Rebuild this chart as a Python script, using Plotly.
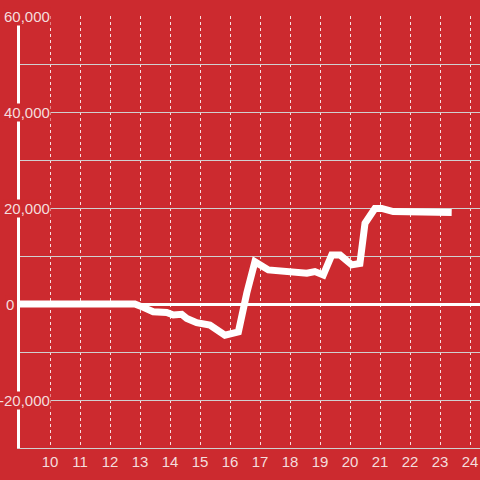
import plotly.graph_objects as go

# data
hours = [9, 12.83, 13.11, 13.44, 13.89, 14.11, 14.39, 14.56, 14.89, 15.0, 15.33,
         15.83, 16.28, 16.56, 16.83, 17.28, 18.22, 18.56, 18.83, 19.11, 19.39,
         19.67, 20.06, 20.33, 20.5, 20.83, 21.06, 21.44, 23.39]
values = [0, 0, -700, -1600, -1750, -2300, -2150, -3000, -3900, -4000, -4400,
          -6500, -5800, 2300, 8800, 7100, 6750, 6400, 6750, 6050, 10200,
          10200, 8150, 8450, 16800, 19900, 19900, 19250, 19050]
x_ticks = list(range(10, 25))
y_ticks = [60000, 40000, 20000, 0, -20000]
y_tick_labels = ["60,000", "40,000", "20,000", "0", "-20,000"]

BG = "#cc2a2f"
TXT = "#f4dddd"
FONT = "Liberation Sans, Arial, sans-serif"

L, R, T, B = 20, 0, 16, 32
W = 480 - L - R

fig = go.Figure()
fig.add_trace(go.Scatter(
    x=hours, y=values, mode="lines",
    line=dict(color="white", width=7),
    hoverinfo="skip", showlegend=False,
))

fig.update_layout(
    width=480, height=480,
    margin=dict(l=L, r=R, t=T, b=B, autoexpand=False),
    paper_bgcolor=BG, plot_bgcolor=BG,
    font=dict(family=FONT, size=14, color=TXT),
    showlegend=False,
)
fig.update_xaxes(
    range=[9, 9 + W / 30], tickvals=x_ticks, ticks="", automargin=False,
    showgrid=True, gridcolor="rgba(255,255,255,0.85)", gridwidth=1, griddash="dot",
    zeroline=False, showline=True, linecolor="#d0d0d0", linewidth=1,
    tickfont=dict(size=15, color=TXT, family=FONT),
)
fig.update_yaxes(
    range=[-30000, 60000.1], dtick=10000, tick0=0, ticks="", automargin=False,
    showticklabels=False,
    showgrid=True, gridcolor="#d0d0d0", gridwidth=1,
    zeroline=True, zerolinecolor="white", zerolinewidth=3,
    showline=True, linecolor="white", linewidth=3,
)

for v, lab in zip(y_ticks, y_tick_labels):
    px_right = 15 if v == 0 else 51
    fig.add_annotation(
        x=(px_right - L) / W, xref="paper", xanchor="right",
        y=v, yref="y", yanchor="middle",
        text=lab, showarrow=False,
        font=dict(size=15, color=TXT, family=FONT),
        bgcolor=BG, borderpad=0,
    )

fig.write_html(
    "out.html",
    config={"displayModeBar": False},
    post_script="document.body.style.margin='0';document.body.style.padding='0';"
                "document.body.style.background='" + BG + "';",
)
